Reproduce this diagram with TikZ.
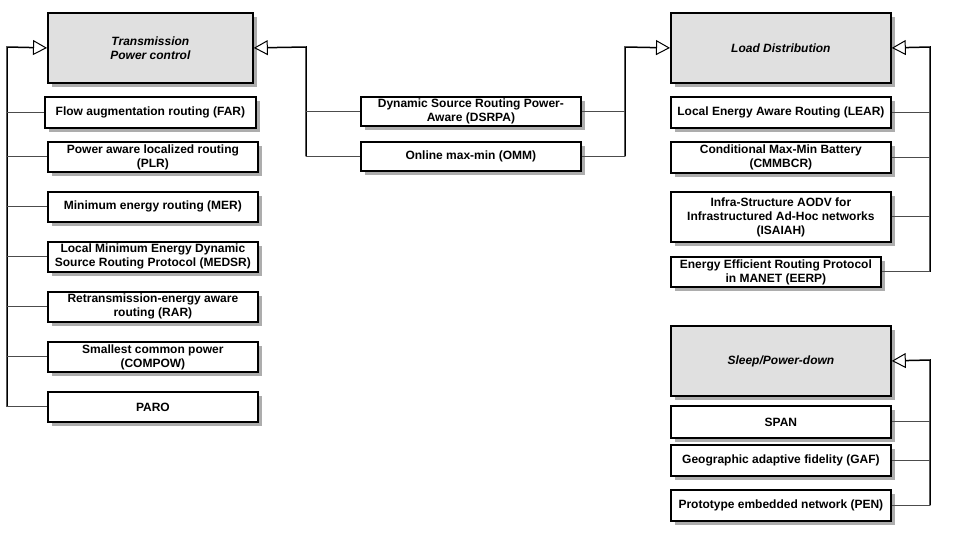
\documentclass[tikz,border=0pt]{standalone}
\usepackage{fontspec}
\setmainfont{Liberation Sans}
\usetikzlibrary{arrows.meta,shadows}
\begin{document}
\begin{tikzpicture}[x=1pt,y=-1pt,
  box/.style={draw=black, line width=1.8pt, fill=white, align=center,
    font=\fontsize{12}{14}\selectfont\bfseries, inner sep=0pt, anchor=north west,
    general shadow={fill=black!32, shadow xshift=4pt, shadow yshift=-4pt}},
  cat/.style={box, fill=black!12, font=\fontsize{12}{14}\selectfont\bfseries\itshape},
  trunk/.style={line width=1.5pt, draw=black},
  branch/.style={line width=1pt, draw=black!70},
  arr/.style={-{Triangle[open, length=14pt, width=15pt, line width=1pt, fill=white]}}]
\useasboundingbox (0,0) rectangle (954,541);

% left column
\node[cat, minimum width=205pt, minimum height=70pt] (TPC) at (47,12) {Transmission\\Power control};
\node[box, minimum width=211pt, minimum height=31pt] (FAR) at (44,96) {Flow augmentation routing (FAR)};
\node[box, minimum width=210pt, minimum height=30pt] (PLR) at (47,141) {Power aware localized routing\\(PLR)};
\node[box, minimum width=210pt, minimum height=30pt] (MER) at (47,191) {Minimum energy routing (MER)};
\node[box, minimum width=210pt, minimum height=30pt] (MEDSR) at (47,241) {Local Minimum Energy Dynamic\\Source Routing Protocol (MEDSR)};
\node[box, minimum width=210pt, minimum height=30pt] (RAR) at (47,291) {Retransmission-energy aware\\routing (RAR)};
\node[box, minimum width=210pt, minimum height=30pt] (COMPOW) at (47,341) {Smallest common power\\(COMPOW)};
\node[box, minimum width=210pt, minimum height=30pt] (PARO) at (47,391) {PARO};

% middle
\node[box, minimum width=220pt, minimum height=29pt] (DSRPA) at (360,96) {Dynamic Source Routing Power-\\Aware (DSRPA)};
\node[box, minimum width=220pt, minimum height=29pt] (OMM) at (360,141) {Online max-min (OMM)};

% right column
\node[cat, minimum width=220pt, minimum height=70pt] (LD) at (670,12) {Load Distribution};
\node[box, minimum width=220pt, minimum height=31pt] (LEAR) at (670,96) {Local Energy Aware Routing (LEAR)};
\node[box, minimum width=220pt, minimum height=31pt] (CMMBCR) at (670,141) {Conditional Max-Min Battery\\(CMMBCR)};
\node[box, minimum width=220pt, minimum height=50pt] (ISAIAH) at (670,191) {Infra-Structure AODV for\\Infrastructured Ad-Hoc networks\\(ISAIAH)};
\node[box, minimum width=210pt, minimum height=30pt] (EERP) at (670,256) {Energy Efficient Routing Protocol\\in MANET (EERP)};

\node[cat, minimum width=220pt, minimum height=70pt] (SPD) at (670,325) {Sleep/Power-down};
\node[box, minimum width=220pt, minimum height=32pt] (SPAN) at (670,405) {SPAN};
\node[box, minimum width=220pt, minimum height=31pt] (GAF) at (670,444) {Geographic adaptive fidelity (GAF)};
\node[box, minimum width=220pt, minimum height=31pt] (PEN) at (670,489) {Prototype embedded network (PEN)};

% junction coordinates
\coordinate (LT) at (7,47);
\coordinate (ML) at (306,47);
\coordinate (MR) at (625,47);
\coordinate (RT) at (930,47);
\coordinate (ST) at (930,360);

% left trunk
\draw[trunk, arr] (PARO.west -| LT) -- (LT) -- (TPC.west);
\foreach \n in {FAR,PLR,MER,MEDSR,RAR,COMPOW,PARO}
  \draw[branch] (\n.west) -- (\n.west -| LT);

% middle
\draw[trunk, arr] (OMM.west -| ML) -- (ML) -- (TPC.east);
\draw[branch] (DSRPA.west) -- (DSRPA.west -| ML);
\draw[branch] (OMM.west) -- (OMM.west -| ML);
\draw[trunk, arr] (OMM.east -| MR) -- (MR) -- (LD.west);
\draw[branch] (DSRPA.east) -- (DSRPA.east -| MR);
\draw[branch] (OMM.east) -- (OMM.east -| MR);

% right
\draw[trunk, arr] (EERP.east -| RT) -- (RT) -- (LD.east);
\foreach \n in {LEAR,CMMBCR,ISAIAH,EERP}
  \draw[branch] (\n.east) -- (\n.east -| RT);

\draw[trunk, arr] (PEN.east -| ST) -- (ST) -- (SPD.east);
\foreach \n in {SPAN,GAF,PEN}
  \draw[branch] (\n.east) -- (\n.east -| ST);
\end{tikzpicture}
\end{document}
